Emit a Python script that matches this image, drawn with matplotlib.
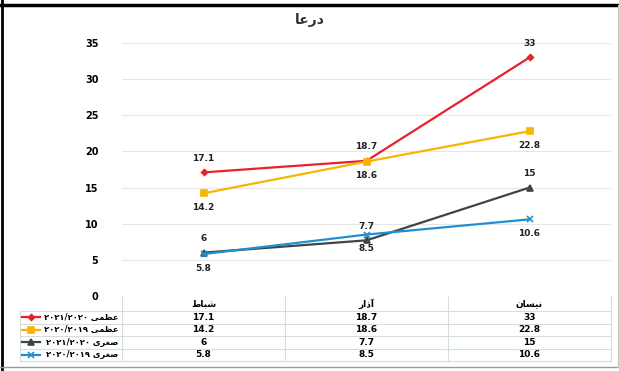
import matplotlib
matplotlib.use('Agg')
import matplotlib.pyplot as plt
from matplotlib.lines import Line2D
import matplotlib.transforms as mtransforms

# Arabic text written as presentation forms in visual (left-to-right) order
title = "\uFE8E\uFECB\uFEAD\uFEA9"  # درعا
categories = ["\uFEC1\uFE8E\uFE92\uFEB7",          # شباط
              "\uFEAD\uFE8D\uFEAB\uFE81",          # آذار
              "\uFEE5\uFE8E\uFEB4\uFEF4\uFEE7"]    # نيسان
w_max = "\uFEF0\uFEE4\uFEC8\uFECB"   # عظمى
w_min = "\uFEEF\uFEAE\uFED0\uFEBB"   # صغرى
y2021 = "\u0662\u0660\u0662\u0661/\u0662\u0660\u0662\u0660"
y2020 = "\u0662\u0660\u0662\u0660/\u0662\u0660\u0661\u0669"
series_names = [y2021 + " " + w_max, y2020 + " " + w_max,
                y2021 + " " + w_min, y2020 + " " + w_min]

max_2021 = [17.1, 18.7, 33]
max_2020 = [14.2, 18.6, 22.8]
min_2021 = [6, 7.7, 15]
min_2020 = [5.8, 8.5, 10.6]
yticks = [0, 5, 10, 15, 20, 25, 30, 35]

series = [max_2021, max_2020, min_2021, min_2020]
colors = ['#e8212e', '#f7b500', '#3c4646', '#1f8fd2']
markers = ['D', 's', '^', 'x']
msizes = [3, 5, 4, 4]
label_pos = ['above', 'below', 'above', 'below']

W, H = 619, 371
fig = plt.figure(figsize=(W / 100, H / 100), dpi=100)
plt.rcParams['font.family'] = ['DejaVu Sans']

def fx(px):
    return px / W

def fy(py):
    return 1 - py / H

# outer frame
fig.add_artist(Line2D([0, 1], [fy(4.5), fy(4.5)], color='black', lw=2.5))
fig.add_artist(Line2D([fx(1.5), fx(1.5)], [0, 1], color='black', lw=2))
fig.add_artist(Line2D([0, 1], [fy(366.5), fy(366.5)], color='#9a9a9a', lw=1))
fig.add_artist(Line2D([fx(617.5), fx(617.5)], [fy(366.5), fy(4.5)], color='#c8c8c8', lw=0.8))

ax_l, ax_r, ax_t, ax_b = 122, 611, 43, 296
ax = fig.add_axes([fx(ax_l), fy(ax_b), fx(ax_r - ax_l), (ax_b - ax_t) / H])
ax.set_xlim(-0.5, 2.5)
ax.set_ylim(0, 35)
ax.set_yticks(yticks)
ax.set_yticklabels([str(v) for v in yticks], fontsize=7, fontweight='bold')
ax.tick_params(axis='y', length=0, pad=17)
ax.set_xticks([])
for s in ax.spines.values():
    s.set_visible(False)
ax.grid(axis='y', color='#e6e6e6', lw=0.8)
ax.set_axisbelow(True)

x = list(range(len(categories)))
for vals, c, m, ms, pos in zip(series, colors, markers, msizes, label_pos):
    ax.plot(x, vals, color=c, lw=1.6, marker=m, ms=ms, mew=1.2,
            mfc=c, mec=c, zorder=3)
    for xi, v in zip(x, vals):
        off = 7 if pos == 'above' else -7
        ax.annotate(f"{v:g}", (xi, v), xytext=(0, off), textcoords='offset points',
                    ha='center', va='bottom' if pos == 'above' else 'top',
                    fontsize=6.5, fontweight='bold', color='#222222')

fig.text(fx(310), fy(20), title, ha='center', va='center', fontsize=10,
         fontweight='bold', color='#333333')

# data table under the axis
tb = mtransforms.blended_transform_factory(ax.transData, fig.transFigure)
row_lines = [296, 311, 323.5, 336, 348.5, 361]
grid_c = '#d6dde0'
for py in row_lines[1:]:
    fig.add_artist(Line2D([fx(20), fx(ax_r)], [fy(py), fy(py)], color=grid_c, lw=0.8))
fig.add_artist(Line2D([fx(ax_l), fx(ax_l)], [fy(296), fy(row_lines[-1])], color=grid_c, lw=0.8))
fig.add_artist(Line2D([fx(20), fx(20)], [fy(311), fy(row_lines[-1])], color=grid_c, lw=0.8))
for xb in [0.5, 1.5, 2.5]:
    ax.add_artist(Line2D([xb, xb], [fy(296), fy(row_lines[-1])], transform=tb,
                         color=grid_c, lw=0.8, clip_on=False))

for xi, cat in zip(x, categories):
    ax.text(xi, fy((row_lines[0] + row_lines[1]) / 2), cat, transform=tb,
            ha='center', va='center', fontsize=6.5, fontweight='bold')

for r, (vals, name, c, m, ms) in enumerate(zip(series, series_names, colors, markers, msizes)):
    yc = fy((row_lines[r + 1] + row_lines[r + 2]) / 2)
    for xi, v in zip(x, vals):
        ax.text(xi, yc, f"{v:g}", transform=tb, ha='center', va='center',
                fontsize=6.5, fontweight='bold')
    fig.text(fx(118), yc, name, ha='right', va='center', fontsize=6,
             fontweight='bold')
    fig.add_artist(Line2D([fx(22), fx(40)], [yc, yc], color=c, lw=1.6))
    fig.add_artist(Line2D([fx(31)], [yc], color=c, marker=m, ms=ms, mew=1.2,
                          mfc=c, mec=c, lw=0))

fig.savefig('out.png', dpi=100)
